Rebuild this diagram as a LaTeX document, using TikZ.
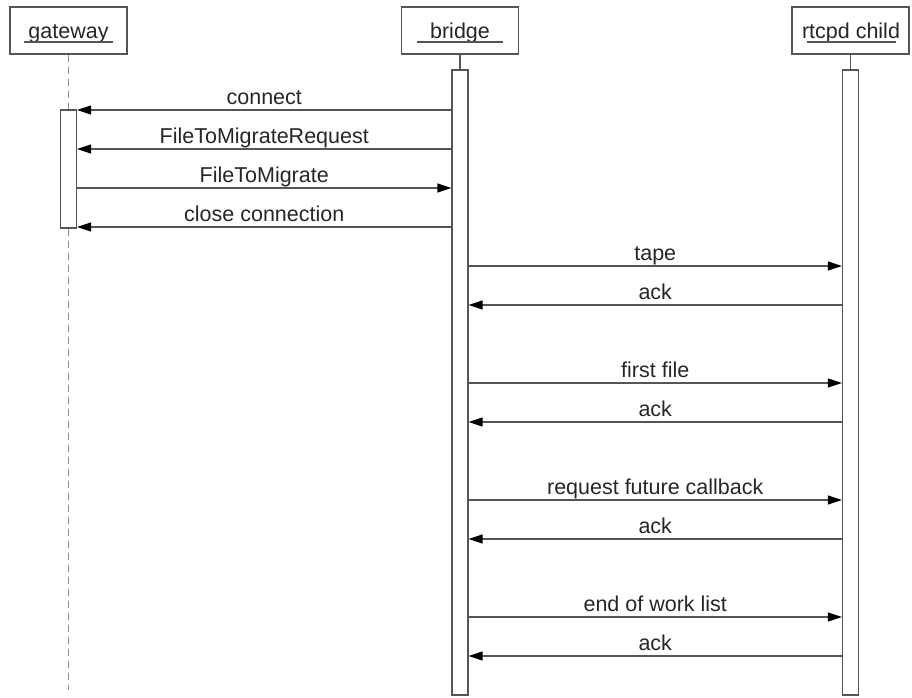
\documentclass[tikz,border=0pt]{standalone}
\usepackage{fontspec}
\setmainfont{Liberation Sans}
\usetikzlibrary{arrows.meta}
\definecolor{linegray}{HTML}{555555}
\definecolor{dashgray}{HTML}{8A8A8A}
\begin{document}
\begin{tikzpicture}[x=1pt,y=-1pt,
  every node/.style={font=\fontsize{21.5}{25}\selectfont, text=black!85},
  head/.style={draw=linegray, line width=1.3pt, fill=white, minimum width=117pt, minimum height=47pt, inner sep=0pt},
  headtext/.style={inner sep=0pt, anchor=base},
  uline/.style={draw=linegray, line width=1.3pt},
  act/.style={draw=linegray, line width=1.2pt, fill=white, minimum width=16pt, inner sep=0pt},
  life/.style={draw=dashgray, line width=1.6pt, dash pattern=on 7pt off 5pt},
  stub/.style={draw=linegray, line width=1.2pt},
  msg/.style={draw=linegray, line width=1.3pt, -{Triangle[length=14pt,width=9pt,color=black]}},
  lbl/.style={inner sep=0pt, anchor=base}]
\useasboundingbox (0,0) rectangle (912,697);

% lifeline heads
\node[head] (gwhead) at (68.5,30.5) {};
\node[head] (brhead) at (460,30.5) {};
\node[head] (rthead) at (850.5,30.5) {};
\node[headtext] (gwname) at (68.5,38) {gateway};
\node[headtext] (brname) at (460,38) {bridge};
\node[headtext] (rtname) at (851,38) {rtcpd child};
\draw[uline] ([xshift=15pt]gwhead.west |- 0,42) -- ([xshift=-15pt]gwhead.east |- 0,42);
\draw[uline] ([xshift=16pt]brhead.west |- 0,42) -- ([xshift=-16pt]brhead.east |- 0,42);
\draw[uline] ([xshift=16pt]rthead.west |- 0,42) -- ([xshift=-14pt]rthead.east |- 0,42);

% activation bars
\node[act, minimum height=118pt] (gwact) at (68.5,169) {};
\node[act, minimum height=625pt] (bract) at (460,382.5) {};
\node[act, minimum height=625pt] (rtact) at (850.5,382.5) {};

% lifelines
\coordinate (gwend) at (68.5,690);
\draw[life] (gwhead.south) -- (gwact.north);
\draw[life] (gwact.south) -- (gwend);
\draw[stub] (brhead.south) -- (bract.north);
\draw[stub] (rthead.south) -- (rtact.north);

% message rows
\coordinate (r1) at (0,110);
\coordinate (r2) at (0,149);
\coordinate (r3) at (0,188);
\coordinate (r4) at (0,227);
\coordinate (r5) at (0,266);
\coordinate (r6) at (0,305);
\coordinate (r7) at (0,383);
\coordinate (r8) at (0,422);
\coordinate (r9) at (0,500);
\coordinate (r10) at (0,539);
\coordinate (r11) at (0,617);
\coordinate (r12) at (0,656);

% gateway <-> bridge
\draw[msg] (bract.west |- r1) -- node[lbl, yshift=6pt] {connect} (gwact.east |- r1);
\draw[msg] (bract.west |- r2) -- node[lbl, yshift=6pt] {FileToMigrateRequest} (gwact.east |- r2);
\draw[msg] (gwact.east |- r3) -- node[lbl, yshift=6pt] {FileToMigrate} (bract.west |- r3);
\draw[msg] (bract.west |- r4) -- node[lbl, yshift=6pt] {close connection} (gwact.east |- r4);

% bridge <-> rtcpd child
\draw[msg] (bract.east |- r5) -- node[lbl, yshift=6pt] {tape} (rtact.west |- r5);
\draw[msg] (rtact.west |- r6) -- node[lbl, yshift=6pt] {ack} (bract.east |- r6);
\draw[msg] (bract.east |- r7) -- node[lbl, yshift=6pt] {first file} (rtact.west |- r7);
\draw[msg] (rtact.west |- r8) -- node[lbl, yshift=6pt] {ack} (bract.east |- r8);
\draw[msg] (bract.east |- r9) -- node[lbl, yshift=6pt] {request future callback} (rtact.west |- r9);
\draw[msg] (rtact.west |- r10) -- node[lbl, yshift=6pt] {ack} (bract.east |- r10);
\draw[msg] (bract.east |- r11) -- node[lbl, yshift=6pt] {end of work list} (rtact.west |- r11);
\draw[msg] (rtact.west |- r12) -- node[lbl, yshift=6pt] {ack} (bract.east |- r12);
\end{tikzpicture}
\end{document}
